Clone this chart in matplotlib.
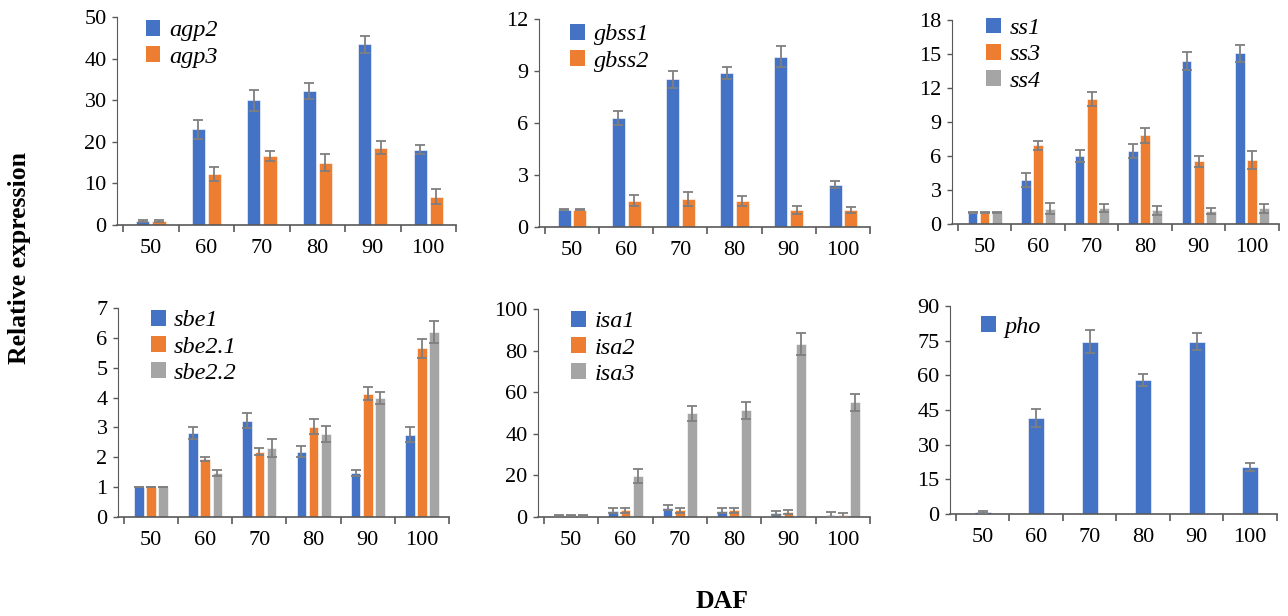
import numpy as np
import matplotlib
matplotlib.use("Agg")
from matplotlib import pyplot as plt
from matplotlib.patches import Patch

plt.rcParams['font.family'] = ['Liberation Serif', 'DejaVu Serif']

days = ['50', '60', '70', '80', '90', '100']

agp2 = [1.0, 23.0, 30.0, 32.2, 43.4, 18.1]
agp2_err = [0.2, 2.3, 2.5, 2.0, 2.1, 1.1]
agp3 = [1.0, 12.2, 16.5, 15.0, 18.6, 6.8]
agp3_err = [0.2, 1.7, 1.2, 2.0, 1.5, 1.8]

gbss1 = [1.0, 6.28, 8.52, 8.88, 9.83, 2.45]
gbss1_err = [0.02, 0.42, 0.5, 0.37, 0.6, 0.2]
gbss2 = [1.0, 1.52, 1.62, 1.5, 0.98, 0.98]
gbss2_err = [0.02, 0.3, 0.38, 0.3, 0.22, 0.15]

ss1 = [1.0, 3.88, 5.99, 6.46, 14.39, 15.06]
ss1_err = [0.03, 0.6, 0.5, 0.6, 0.8, 0.73]
ss3 = [1.0, 6.93, 11.04, 7.81, 5.52, 5.67]
ss3_err = [0.03, 0.38, 0.6, 0.7, 0.5, 0.8]
ss4 = [1.0, 1.35, 1.44, 1.23, 1.17, 1.38]
ss4_err = [0.03, 0.5, 0.35, 0.4, 0.27, 0.38]

sbe1 = [1.0, 2.8, 3.22, 2.19, 1.47, 2.75]
sbe1_err = [0.01, 0.2, 0.25, 0.18, 0.1, 0.25]
sbe21 = [1.0, 1.95, 2.19, 3.03, 4.13, 5.65]
sbe21_err = [0.01, 0.07, 0.13, 0.25, 0.21, 0.31]
sbe22 = [1.0, 1.47, 2.31, 2.78, 3.97, 6.2]
sbe22_err = [0.01, 0.11, 0.31, 0.26, 0.2, 0.36]

isa1 = [0.8, 3.0, 4.5, 3.0, 1.8, 1.2]
isa1_err = [0.2, 1.3, 1.3, 1.2, 1.0, 1.0]
isa2 = [0.8, 3.2, 3.2, 3.2, 2.6, 0.9]
isa2_err = [0.2, 1.3, 1.2, 1.3, 1.0, 0.8]
isa3 = [0.8, 19.7, 49.8, 51.4, 83.2, 55.2]
isa3_err = [0.2, 3.2, 3.8, 4.1, 5.1, 4.0]

pho = [0.8, 41.5, 74.6, 57.9, 74.6, 20.3]
pho_err = [0.3, 4.0, 4.9, 2.7, 3.6, 1.6]

blue = '#4472C4'
orange = '#ED7D31'
gray = '#A5A5A5'
errc = '#7F7F7F'
axc = '#595959'

W, H = 1288, 616
fig = plt.figure(figsize=(W / 100, H / 100), dpi=100)


def make_ax(x0, x1, ytop, ybot):
    return fig.add_axes([x0 / W, 1 - ybot / H, (x1 - x0) / W, (ybot - ytop) / H])


panels = [
    # axes box (px), ymax, ystep, series, legend anchor
    ((117, 456, 17, 225), 50, 10,
     [('agp2', agp2, agp2_err, blue), ('agp3', agp3, agp3_err, orange)], (0.085, 0.985)),
    ((539, 870, 19, 227), 12, 3,
     [('gbss1', gbss1, gbss1_err, blue), ('gbss2', gbss2, gbss2_err, orange)], (0.095, 0.975)),
    ((952, 1279, 20, 224), 18, 3,
     [('ss1', ss1, ss1_err, blue), ('ss3', ss3, ss3_err, orange), ('ss4', ss4, ss4_err, gray)],
     (0.105, 1.01)),
    ((118, 449, 308, 517), 7, 1,
     [('sbe1', sbe1, sbe1_err, blue), ('sbe2.1', sbe21, sbe21_err, orange),
      ('sbe2.2', sbe22, sbe22_err, gray)], (0.1, 0.99)),
    ((538, 870, 309, 517), 100, 20,
     [('isa1', isa1, isa1_err, blue), ('isa2', isa2, isa2_err, orange),
      ('isa3', isa3, isa3_err, gray)], (0.1, 0.99)),
    ((950, 1277, 306, 514), 90, 15,
     [('pho', pho, pho_err, blue)], (0.095, 0.95)),
]

x = np.arange(len(days))
for box, ymax, ystep, series, anchor in panels:
    ax = make_ax(*box)
    n = len(series)
    if n == 1:
        width, step = 0.3, 0.0
    elif n == 2:
        width, step = 0.24, 0.29
    else:
        width, step = 0.18, 0.225
    handles = []
    for i, (name, vals, err, col) in enumerate(series):
        off = (i - (n - 1) / 2) * step
        ax.bar(x + off, vals, width, color=col, edgecolor='white', linewidth=0.4, zorder=2)
        ax.errorbar(x + off, vals, yerr=err, fmt='none', ecolor=errc, elinewidth=1.3,
                    capsize=3.5, capthick=1.3, zorder=3)
        handles.append(Patch(facecolor=col, label=name))
    ax.set_xlim(-0.61, 5.5)
    ax.set_ylim(0, ymax)
    ax.set_yticks(np.arange(0, ymax + ystep / 2, ystep))
    ax.set_xticks(np.arange(-0.5, 6, 1))
    ax.set_xticklabels([])
    ax.set_xticks(x, minor=True)
    ax.set_xticklabels(days, minor=True)
    ax.tick_params(axis='x', which='major', direction='out', length=5, width=1.2, color=axc)
    ax.tick_params(axis='x', which='minor', length=0, pad=10, labelsize=16)
    ax.tick_params(axis='y', direction='out', length=3.5, width=1, color=axc, pad=4,
                   labelsize=16)
    for s in ['top', 'right']:
        ax.spines[s].set_visible(False)
    ax.spines['left'].set_color(axc)
    ax.spines['bottom'].set_color(axc)
    ax.spines['bottom'].set_linewidth(1.2)
    ax.legend(handles=handles, loc='upper left', bbox_to_anchor=anchor, frameon=False,
              borderpad=0, borderaxespad=0, handlelength=0.6, handleheight=0.6,
              handletextpad=0.35, labelspacing=0.2, prop={'style': 'italic', 'size': 17.5})

fig.text(20 / W, 1 - 258 / H, 'Relative expression', rotation=90, ha='center', va='center',
         fontsize=18.5, fontweight='bold')
fig.text(722 / W, 1 - 601 / H, 'DAF', ha='center', va='center', fontsize=18.5,
         fontweight='bold')

fig.savefig('out.png', dpi=100)
